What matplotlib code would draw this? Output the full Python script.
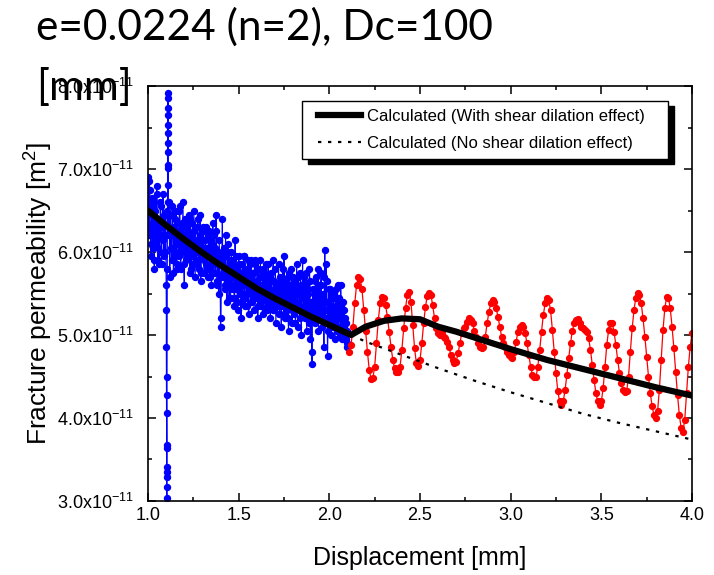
import numpy as np
import matplotlib
matplotlib.use('Agg')
import matplotlib.pyplot as plt
from matplotlib.ticker import MultipleLocator, FuncFormatter
from matplotlib.patches import Rectangle

plt.rcParams['font.family'] = ['Liberation Sans', 'DejaVu Sans']

# measured data (permeability in units of 1e-11 m^2)
# blue: 1.000 .. 1.095 step 0.005
blue_y_a = [6.90, 6.20, 6.75, 5.95, 6.55, 6.05, 6.60, 5.80, 6.40, 6.10,
            6.70, 5.90, 6.30, 6.00, 6.55, 5.85, 6.35, 6.15, 6.45, 6.00]
# blue: 1.0025 .. 1.0975 step 0.005
blue_y_a2 = [6.45, 6.85, 6.30, 6.10, 6.65, 6.35, 5.90, 6.50, 6.25, 6.80,
             6.05, 6.40, 5.85, 6.60, 6.20, 6.30, 6.70, 5.95, 6.20, 6.45]
# spike around 1.10 mm
spike_x = [1.100, 1.101, 1.101, 1.102, 1.102, 1.103, 1.103, 1.103, 1.104, 1.104,
           1.104, 1.105, 1.105, 1.106, 1.107, 1.108, 1.108, 1.109, 1.109, 1.110,
           1.110, 1.110, 1.111, 1.111, 1.111, 1.112, 1.112, 1.113]
spike_y = [5.60, 5.30, 4.86, 4.28, 4.06, 3.67, 3.41, 3.29, 3.04, 3.17,
           3.35, 3.64, 4.50, 5.80, 6.50, 6.81, 7.05, 7.31, 7.53, 7.73,
           7.92, 7.86, 7.65, 7.43, 7.20, 7.01, 6.60, 6.20]
# blue: 1.115 .. 2.100 step 0.005
blue_y_b = [6.60, 5.70, 6.20, 5.90, 6.45, 5.75, 6.30, 6.00, 6.50, 5.85,
            6.25, 5.95, 6.55, 5.80, 6.35, 6.05, 6.20, 5.60, 6.40, 5.90,
            6.30, 6.00, 6.45, 5.75, 6.15, 5.95, 6.35, 5.85, 6.25, 5.70,
            6.10, 5.90, 6.40, 5.80, 6.20, 5.65, 6.05, 5.95, 6.30, 5.75,
            6.15, 5.85, 6.05, 5.70, 6.25, 5.80, 6.00, 5.60, 6.10, 5.90,
            6.20, 5.75, 6.45, 5.65, 6.00, 5.50, 5.90, 5.10, 5.85, 6.40,
            5.70, 6.05, 5.55, 5.95, 5.40, 6.10, 5.65, 5.85, 5.45, 6.00,
            5.60, 5.90, 5.35, 6.15, 5.55, 5.80, 5.30, 5.95, 5.50, 5.75,
            5.40, 5.85, 5.60, 5.95, 5.35, 5.70, 5.50, 5.90, 5.25, 5.65,
            5.55, 5.90, 5.40, 5.75, 5.30, 5.85, 5.50, 5.65, 5.20, 5.80,
            5.45, 5.90, 5.35, 5.60, 5.25, 5.75, 5.50, 5.85, 5.30, 5.55,
            5.40, 5.70, 5.20, 5.65, 5.45, 5.90, 5.30, 5.55, 5.15, 5.60,
            5.35, 5.85, 5.25, 5.50, 5.10, 5.65, 5.40, 5.95, 5.20, 5.55,
            5.30, 5.70, 5.05, 5.60, 5.35, 5.80, 5.15, 5.50, 5.25, 5.65,
            5.40, 5.85, 5.10, 5.55, 5.30, 5.75, 5.00, 5.45, 5.25, 5.70,
            5.20, 5.60, 5.05, 5.50, 5.35, 5.80, 4.95, 5.40, 4.65, 5.30,
            5.55, 5.15, 5.70, 5.25, 5.45, 5.05, 5.60, 5.20, 5.75, 5.10,
            5.50, 4.85, 6.02, 5.30, 5.65, 4.75, 5.40, 5.15, 5.55, 5.00,
            5.35, 5.10, 5.50, 4.95, 5.30, 5.05, 5.60, 5.20, 5.45, 5.00,
            5.35, 4.95, 5.40, 5.10, 5.20, 4.95, 5.05, 4.86]
# blue: 1.1175 .. 2.0975 step 0.005
blue_y_c = [6.30, 6.45, 6.05, 6.55, 6.20, 5.95, 6.40, 6.15, 5.80, 6.35,
            6.10, 6.50, 6.25, 6.00, 6.30, 6.60, 5.85, 6.20, 6.05, 6.35,
            5.95, 6.25, 6.10, 6.40, 5.80, 6.20, 6.05, 6.50, 6.00, 6.15,
            5.85, 6.30, 6.00, 6.10, 6.45, 5.75, 6.15, 6.25, 5.90, 6.05,
            6.30, 5.95, 5.80, 6.20, 6.05, 5.70, 6.15, 5.90, 6.35, 5.85,
            6.05, 5.90, 6.25, 5.60, 5.95, 6.15, 5.70, 5.20, 6.00, 5.75,
            5.95, 5.60, 6.20, 5.80, 5.65, 6.00, 5.45, 5.90, 5.75, 5.55,
            5.85, 5.70, 5.45, 5.95, 5.80, 5.40, 5.65, 5.85, 5.60, 5.20,
            5.70, 5.50, 5.95, 5.45, 5.80, 5.65, 5.35, 5.75, 5.55, 5.85,
            5.40, 5.65, 5.75, 5.50, 5.90, 5.45, 5.60, 5.80, 5.35, 5.60,
            5.70, 5.40, 5.55, 5.80, 5.45, 5.65, 5.30, 5.70, 5.50, 5.85,
            5.55, 5.35, 5.75, 5.50, 5.30, 5.65, 5.45, 5.80, 5.40, 5.35,
            5.60, 5.45, 5.70, 5.35, 5.55, 5.80, 5.25, 5.50, 5.65, 5.40,
            5.50, 5.20, 5.75, 5.45, 5.60, 5.30, 5.70, 5.40, 5.55, 5.15,
            5.60, 5.35, 5.70, 5.50, 5.20, 5.60, 5.45, 5.90, 5.35, 5.50,
            5.45, 5.75, 5.30, 5.55, 5.15, 5.65, 5.40, 4.80, 5.55, 5.25,
            5.40, 5.65, 5.30, 5.50, 5.80, 5.35, 5.45, 5.60, 5.25, 5.45,
            5.30, 5.70, 5.20, 5.85, 5.40, 5.05, 5.55, 5.35, 5.20, 5.50,
            5.25, 5.45, 5.30, 5.15, 5.55, 5.35, 5.10, 5.40, 5.25, 5.60,
            5.20, 5.40, 5.10, 5.30, 5.00, 5.15, 4.90]
# red: 2.11 .. 4.00 step 0.01
red_y = [4.80, 4.88, 5.10, 5.38, 5.60, 5.70, 5.68, 5.55, 5.30, 5.05,
         4.80, 4.58, 4.47, 4.48, 4.62, 4.90, 5.18, 5.38, 5.46, 5.44,
         5.36, 5.22, 5.04, 4.86, 4.70, 4.60, 4.56, 4.56, 4.62, 4.82,
         5.08, 5.32, 5.48, 5.52, 5.40, 5.12, 4.84, 4.66, 4.63, 4.70,
         4.90, 5.14, 5.34, 5.47, 5.51, 5.48, 5.36, 5.20, 5.08, 5.02,
         5.00, 5.04, 4.98, 4.96, 4.92, 4.86, 4.76, 4.70, 4.66, 4.68,
         4.78, 4.90, 5.02, 5.08, 5.10, 5.16, 5.20, 5.18, 5.14, 5.05,
         4.98, 4.90, 4.86, 4.84, 4.86, 4.98, 5.14, 5.28, 5.38, 5.42,
         5.40, 5.32, 5.22, 5.10, 4.98, 4.90, 4.86, 4.80, 4.76, 4.73,
         4.72, 4.80, 4.92, 5.04, 5.10, 5.12, 5.10, 5.02, 4.90, 4.76,
         4.62, 4.52, 4.49, 4.50, 4.62, 4.82, 5.04, 5.24, 5.38, 5.44,
         5.42, 5.30, 5.06, 4.80, 4.54, 4.32, 4.20, 4.16, 4.20, 4.34,
         4.52, 4.72, 4.90, 5.05, 5.14, 5.18, 5.19, 5.14, 5.10, 5.08,
         5.06, 5.04, 4.96, 4.82, 4.64, 4.46, 4.30, 4.20, 4.16, 4.20,
         4.36, 4.62, 4.88, 5.06, 5.15, 5.14, 5.04, 4.88, 4.70, 4.54,
         4.42, 4.34, 4.31, 4.33, 4.50, 4.80, 5.08, 5.30, 5.45, 5.51,
         5.48, 5.38, 5.20, 4.98, 4.74, 4.50, 4.30, 4.14, 4.04, 4.00,
         4.08, 4.34, 4.70, 5.06, 5.32, 5.46, 5.45, 5.32, 5.10, 4.84,
         4.56, 4.28, 4.04, 3.88, 3.83, 3.98, 4.30, 4.62, 4.86, 5.02]

# calculated curves
calc_x = [1.0, 1.1, 1.2, 1.3, 1.4, 1.5, 1.6, 1.7, 1.8, 1.9, 2.0, 2.12,
          2.2, 2.3, 2.4, 2.5, 2.6, 2.7, 2.8, 2.9, 3.0, 3.2, 3.4, 3.6, 3.8, 4.0]
calc_y = [6.50, 6.32, 6.15, 5.99, 5.84, 5.70, 5.56, 5.44, 5.33, 5.22, 5.12, 5.00,
          5.10, 5.17, 5.20, 5.19, 5.10, 5.04, 4.97, 4.90, 4.83, 4.70, 4.59, 4.48, 4.37, 4.27]
nodil_x = [2.12, 2.2, 2.4, 2.6, 2.8, 3.0, 3.2, 3.4, 3.6, 3.8, 4.0]
nodil_y = [5.00, 4.92, 4.76, 4.60, 4.45, 4.31, 4.18, 4.05, 3.94, 3.84, 3.74]

blue_x = np.concatenate([1.0 + 0.005 * np.arange(len(blue_y_a)),
                         1.0025 + 0.005 * np.arange(len(blue_y_a2)),
                         spike_x,
                         1.115 + 0.005 * np.arange(len(blue_y_b)),
                         1.1175 + 0.005 * np.arange(len(blue_y_c))])
blue_y = np.concatenate([blue_y_a, blue_y_a2, spike_y, blue_y_b, blue_y_c])
order = np.argsort(blue_x, kind='stable')
blue_x, blue_y = blue_x[order], blue_y[order]
red_x = 2.11 + 0.01 * np.arange(len(red_y))

fig = plt.figure(figsize=(7.14, 5.75), dpi=100)
ax = fig.add_axes([0.2073, 0.1287, 0.7619, 0.7217])

ax.plot(blue_x, blue_y, '-o', color='#0000ff', lw=0.8, ms=4.3, zorder=2)
ax.plot(red_x, red_y, '-o', color='#ff0000', lw=0.9, ms=4.2, zorder=2)
ax.plot(calc_x, calc_y, '-', color='black', lw=4.5, zorder=4,
        label='Calculated (With shear dilation effect)')
ax.plot(nodil_x, nodil_y, color='black', lw=1.6, ls=(0, (1.5, 3)), zorder=3,
        label='Calculated (No shear dilation effect)')

ax.set_xlim(1.0, 4.0)
ax.set_ylim(3.0, 8.0)
ax.xaxis.set_major_locator(MultipleLocator(0.5))
ax.xaxis.set_minor_locator(MultipleLocator(0.25))
ax.yaxis.set_major_locator(MultipleLocator(1.0))
ax.yaxis.set_minor_locator(MultipleLocator(0.5))
ax.xaxis.set_major_formatter(FuncFormatter(lambda v, p: '%.1f' % v))
ax.yaxis.set_major_formatter(FuncFormatter(
    lambda v, p: r'$\mathregular{%.1fx10^{-11}}$' % v))
ax.tick_params(which='both', direction='in', top=True, right=True, width=1.1)
ax.tick_params(which='major', length=5.5, labelsize=13)
ax.tick_params(which='minor', length=3)
ax.tick_params(axis='x', pad=4)
ax.tick_params(axis='y', pad=10)
for s in ax.spines.values():
    s.set_linewidth(1.2)

ax.set_xlabel('Displacement [mm]', fontsize=18, labelpad=16)
ax.set_ylabel(r'Fracture permeability [m$^\mathregular{2}$]', fontsize=19, labelpad=2)

# legend box with solid shadow
ax.add_patch(Rectangle((0.294, 0.812), 0.673, 0.140, transform=ax.transAxes,
                       facecolor='black', edgecolor='black', zorder=5))
ax.add_patch(Rectangle((0.283, 0.824), 0.673, 0.140, transform=ax.transAxes,
                       facecolor='white', edgecolor='black', lw=1.0, zorder=6))
leg = ax.legend(loc='center left', bbox_to_anchor=(0.312, 0.894), borderaxespad=0,
                borderpad=0, fontsize=12, frameon=False, handlelength=2.6,
                handletextpad=0.35, labelspacing=0.75)
leg.set_zorder(7)

fig.text(0.050, 0.9304, 'e=0.0224 (n=2), Dc=100', fontsize=30.5,
         family=['Lato', 'DejaVu Sans'], va='baseline')
fig.text(0.050, 0.826, '[mm]', fontsize=30.5,
         family=['Lato', 'DejaVu Sans'], va='baseline')

fig.savefig('out.png', dpi=100)
